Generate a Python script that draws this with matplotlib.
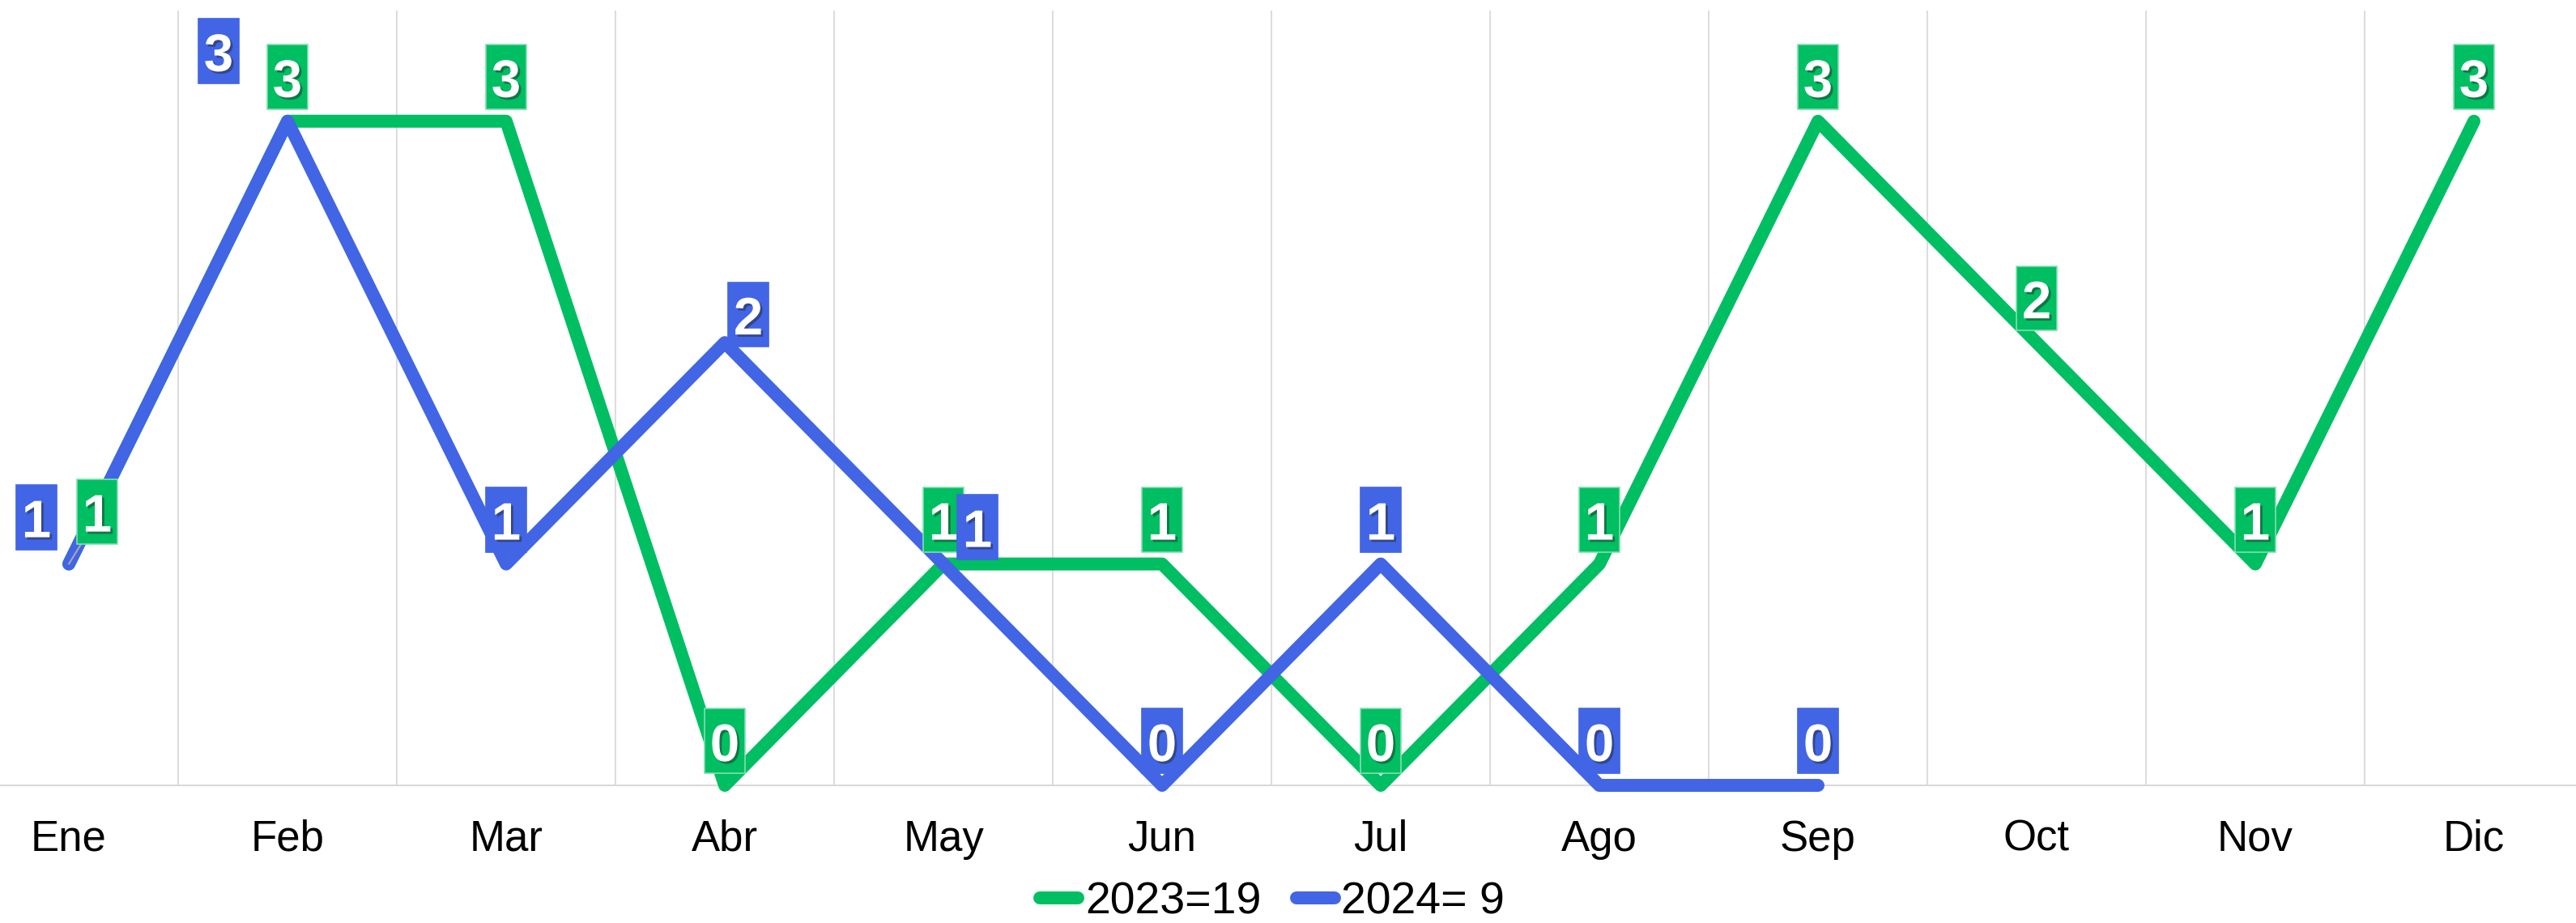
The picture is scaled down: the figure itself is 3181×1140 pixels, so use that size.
import matplotlib
matplotlib.use('Agg')
import matplotlib.pyplot as plt
import matplotlib.patheffects as pe
from matplotlib.path import Path
import numpy as np

months = ['Ene', 'Feb', 'Mar', 'Abr', 'May', 'Jun', 'Jul', 'Ago', 'Sep', 'Oct', 'Nov', 'Dic']
values_2023 = [1, 3, 3, 0, 1, 1, 0, 1, 3, 2, 1, 3]
values_2024 = [1, 3, 1, 2, 1, 0, 1, 0, 0]

green = '#00be62'
blue = '#4165e4'

plt.rcParams['font.family'] = ['Liberation Sans', 'DejaVu Sans']

# label nudges in pixels (dx, gap above point) where labels collide
nudge_2023 = {0: (35, 25)}
nudge_2024 = {0: (-40, 18), 1: (-85, 47), 3: (29, -5), 4: (42, 6)}


def label_box(x0, y0, width, height, mutation_size):
    # rectangle with more room above the digit than below
    px = 0.105 * mutation_size
    pt = 0.27 * mutation_size
    pb = 0.03 * mutation_size
    x1, y1 = x0 - px, y0 - pb
    x2, y2 = x0 + width + px, y0 + height + pt
    return Path([(x1, y1), (x2, y1), (x2, y2), (x1, y2), (x1, y1)], closed=True)


fig = plt.figure(figsize=(31.81, 11.40), dpi=100)
ax = fig.add_axes([0, 170 / 1140, 1, 957 / 1140])

x23 = np.arange(len(values_2023))
x24 = np.arange(len(values_2024))

ax.plot(x23, values_2023, color=green, lw=11.5, solid_capstyle='round',
        solid_joinstyle='round', clip_on=False, zorder=3,
        label='2023=%d' % sum(values_2023))
ax.plot(x24, values_2024, color=blue, lw=11.5, solid_capstyle='round',
        solid_joinstyle='round', clip_on=False, zorder=4,
        label='2024=%2d' % sum(values_2024))

shadow = [pe.withSimplePatchShadow(offset=(2, -2), shadow_rgbFace='#222222', alpha=0.45)]


def put_labels(xs, vals, color, edge, nudges, z):
    for i, (x, v) in enumerate(zip(xs, vals)):
        dx, gap = nudges.get(i, (0, 15))
        arrow = None
        if gap > 20 and dx > 0:
            arrow = dict(arrowstyle='-', color='#aaaaaa', lw=1.5, shrinkA=0, shrinkB=0)
        ax.annotate(str(v), (x, v), xytext=(dx, gap + 2), textcoords='offset pixels',
                    ha='center', va='bottom', fontsize=47, fontweight='bold',
                    color='white', zorder=z, annotation_clip=False,
                    bbox=dict(boxstyle=label_box, fc=color, ec=edge, lw=1.2),
                    arrowprops=arrow, path_effects=shadow)


put_labels(x23, values_2023, green, '#7fe0b0', nudge_2023, 5)
put_labels(x24, values_2024, blue, blue, nudge_2024, 6)

ax.set_xticks(x23)
ax.set_xticklabels(months, fontsize=38)
ax.set_xticks(np.arange(-0.5, 12, 1), minor=True)
ax.set_yticks([])
ax.set_xlim(-85 / 270, (3181 - 85) / 270)
ax.set_ylim(0, 3.5)
ax.tick_params(axis='x', which='both', length=0, pad=30)
ax.grid(axis='x', which='minor', color='#dddddd', lw=1.5)
ax.grid(axis='x', which='major', visible=False)
for s in ['top', 'left', 'right']:
    ax.spines[s].set_visible(False)
ax.spines['bottom'].set_color('#d9d9d9')
ax.spines['bottom'].set_linewidth(1.5)

fig.legend(loc='center', bbox_to_anchor=(0.4939, 0.022), ncol=2, frameon=False,
           fontsize=40, handlelength=0.85, handletextpad=0.15, columnspacing=0.78,
           borderpad=0, borderaxespad=0)

fig.savefig('out.png', dpi=100)
